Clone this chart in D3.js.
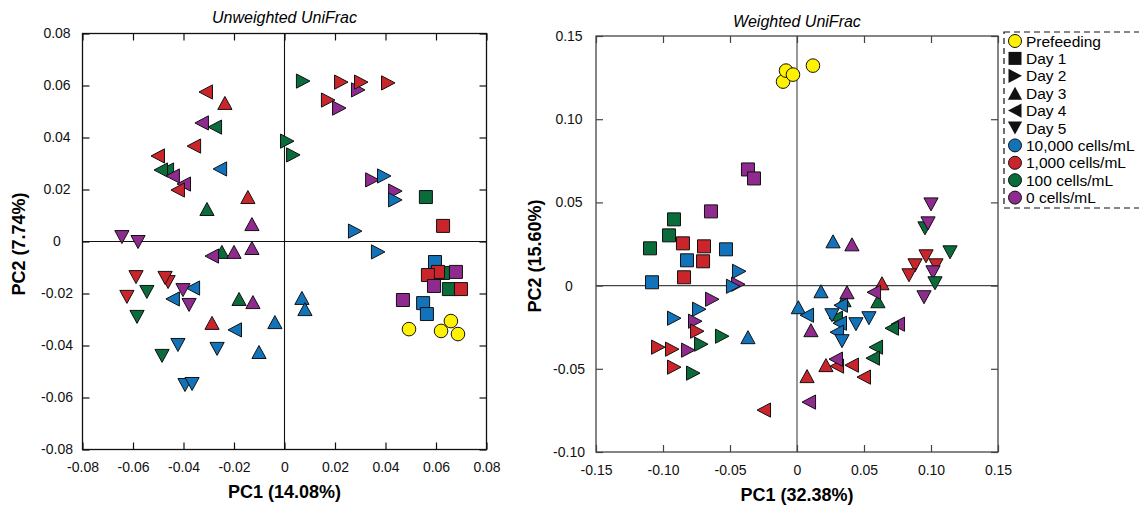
<!DOCTYPE html>
<html>
<head>
<meta charset="utf-8">
<script src="https://cdn.jsdelivr.net/npm/d3@7"></script>
<style>
  body { margin: 0; background: #fff; }
  text { font-family: "Liberation Sans", Arial, sans-serif; }
</style>
</head>
<body>
<script>
// rows: [PC1, PC2, day, dose]  day 0 = prefeeding, 1..5 = Day 1..5
// dose: 0 = 10,000 cells/mL, 1 = 1,000, 2 = 100, 3 = 0 cells/mL, -1 = prefeeding
const unweighted = [
  // Day 1
  [0.0560, 0.0171, 1, 2], [0.0628, 0.0060, 1, 1], [0.0596, -0.0079, 1, 0], [0.0628, -0.0121, 1, 2],
  [0.0608, -0.0117, 1, 1], [0.0568, -0.0129, 1, 1], [0.0679, -0.0117, 1, 3], [0.0592, -0.0171, 1, 3],
  [0.0651, -0.0183, 1, 2], [0.0699, -0.0183, 1, 1], [0.0469, -0.0225, 1, 3], [0.0549, -0.0237, 1, 0],
  [0.0564, -0.0279, 1, 0],
  // Day 2
  [0.0073, 0.0617, 2, 2], [0.0224, 0.0613, 2, 1], [0.0291, 0.0583, 2, 3], [0.0303, 0.0613, 2, 1],
  [0.0410, 0.0610, 2, 1], [0.0172, 0.0544, 2, 1], [0.0216, 0.0513, 2, 3], [0.0010, 0.0386, 2, 2],
  [0.0034, 0.0333, 2, 2], [0.0347, 0.0237, 2, 3], [0.0394, 0.0252, 2, 0], [0.0438, 0.0194, 2, 3],
  [0.0438, 0.0160, 2, 0], [0.0279, 0.0040, 2, 0], [0.0370, -0.0040, 2, 0],
  // Day 3
  [-0.0236, 0.0533, 3, 1], [-0.0145, 0.0171, 3, 1], [-0.0307, 0.0125, 3, 2], [-0.0129, 0.0067, 3, 3],
  [-0.0248, -0.0040, 3, 2], [-0.0200, -0.0040, 3, 3], [-0.0129, -0.0025, 3, 3], [-0.0180, -0.0221, 3, 2],
  [-0.0125, -0.0233, 3, 3], [-0.0287, -0.0313, 3, 1], [-0.0038, -0.0310, 3, 0], [-0.0101, -0.0425, 3, 0],
  [0.0069, -0.0217, 3, 0], [0.0081, -0.0260, 3, 0],
  // Day 4
  [-0.0311, 0.0575, 4, 1], [-0.0327, 0.0456, 4, 3], [-0.0275, 0.0440, 4, 2], [-0.0358, 0.0367, 4, 1],
  [-0.0501, 0.0329, 4, 1], [-0.0465, 0.0275, 4, 2], [-0.0489, 0.0275, 4, 2], [-0.0442, 0.0252, 4, 3],
  [-0.0398, 0.0221, 4, 3], [-0.0422, 0.0198, 4, 1], [-0.0255, 0.0279, 4, 0], [-0.0287, -0.0056, 4, 3],
  [-0.0362, -0.0179, 4, 0], [-0.0442, -0.0221, 4, 0], [-0.0196, -0.0340, 4, 0],
  // Day 5
  [-0.0644, 0.0017, 5, 3], [-0.0580, -0.0002, 5, 3], [-0.0588, -0.0137, 5, 1], [-0.0461, -0.0156, 5, 1],
  [-0.0473, -0.0140, 5, 1], [-0.0624, -0.0213, 5, 1], [-0.0545, -0.0194, 5, 2], [-0.0402, -0.0187, 5, 3],
  [-0.0378, -0.0244, 5, 3], [-0.0584, -0.0290, 5, 2], [-0.0422, -0.0398, 5, 0], [-0.0485, -0.0440, 5, 2],
  [-0.0267, -0.0413, 5, 0], [-0.0394, -0.0552, 5, 0], [-0.0366, -0.0548, 5, 0],
  // Prefeeding
  [0.0493, -0.0337, 0, -1], [0.0659, -0.0306, 0, -1], [0.0620, -0.0344, 0, -1], [0.0687, -0.0356, 0, -1]
];

const weighted = [
  // Prefeeding
  [-0.0104, 0.1226, 0, -1], [-0.0082, 0.1292, 0, -1], [-0.0030, 0.1268, 0, -1], [0.0119, 0.1322, 0, -1],
  // Day 1
  [-0.0366, 0.0698, 1, 3], [-0.0321, 0.0644, 1, 3], [-0.0642, 0.0446, 1, 3], [-0.0918, 0.0398, 1, 2],
  [-0.0955, 0.0302, 1, 2], [-0.1097, 0.0224, 1, 2], [-0.0851, 0.0254, 1, 1], [-0.0694, 0.0236, 1, 1],
  [-0.0530, 0.0218, 1, 0], [-0.0821, 0.0152, 1, 0], [-0.0701, 0.0146, 1, 1], [-0.1082, 0.0020, 1, 0],
  [-0.0843, 0.0050, 1, 1],
  // Day 2
  [-0.0433, 0.0086, 2, 0], [-0.0440, 0.0008, 2, 3], [-0.0478, -0.0004, 2, 0], [-0.0634, -0.0082, 2, 3],
  [-0.0731, -0.0142, 2, 0], [-0.0918, -0.0196, 2, 0], [-0.0761, -0.0214, 2, 3], [-0.0746, -0.0274, 2, 1],
  [-0.0560, -0.0304, 2, 2], [-0.0716, -0.0352, 2, 2], [-0.1037, -0.0370, 2, 1], [-0.0933, -0.0382, 2, 1],
  [-0.0813, -0.0388, 2, 3], [-0.0918, -0.0490, 2, 1], [-0.0776, -0.0526, 2, 2],
  // Day 3
  [-0.0366, -0.0310, 3, 0], [0.0010, -0.0130, 3, 0], [0.0269, 0.0266, 3, 0], [0.0410, 0.0248, 3, 3],
  [0.0634, 0.0014, 3, 1], [0.0604, -0.0094, 3, 2], [0.0179, -0.0034, 3, 0], [0.0351, -0.0088, 3, 2],
  [0.0373, -0.0040, 3, 3], [0.0104, -0.0268, 3, 3], [0.0216, -0.0478, 3, 1], [0.0075, -0.0544, 3, 1],
  // Day 4
  [0.0575, -0.0040, 4, 3], [0.0291, -0.0196, 4, 2], [0.0328, -0.0118, 4, 0], [0.0075, -0.0178, 4, 0],
  [0.0321, -0.0226, 4, 0], [0.0754, -0.0232, 4, 3], [0.0709, -0.0256, 4, 2], [0.0299, -0.0280, 4, 0],
  [0.0590, -0.0370, 4, 2], [0.0567, -0.0436, 4, 2], [0.0299, -0.0484, 4, 1], [0.0291, -0.0442, 4, 3],
  [0.0410, -0.0478, 4, 1], [0.0500, -0.0550, 4, 1], [0.0090, -0.0700, 4, 3], [-0.0246, -0.0748, 4, 1],
  // Day 5
  [0.1000, 0.0488, 5, 3], [0.0955, 0.0344, 5, 2], [0.0978, 0.0374, 5, 3], [0.1142, 0.0200, 5, 2],
  [0.0963, 0.0176, 5, 1], [0.0881, 0.0122, 5, 1], [0.1037, 0.0122, 5, 1], [0.0836, 0.0062, 5, 1],
  [0.1015, 0.0080, 5, 3], [0.1030, 0.0014, 5, 2], [0.0948, -0.0070, 5, 3], [0.0261, -0.0178, 5, 0],
  [0.0440, -0.0232, 5, 0], [0.0537, -0.0196, 5, 0], [0.0336, -0.0334, 5, 0]
];

const dayLabels = ["Prefeeding", "Day 1", "Day 2", "Day 3", "Day 4", "Day 5"];
const doseLabels = ["10,000 cells/mL", "1,000 cells/mL", "100 cells/mL", "0 cells/mL"];
const uwTicks = [-0.08, -0.06, -0.04, -0.02, 0, 0.02, 0.04, 0.06, 0.08];
const wXTicks = [-0.15, -0.10, -0.05, 0, 0.05, 0.10, 0.15];
const wYTicks = [-0.10, -0.05, 0, 0.05, 0.10, 0.15];

const doseColor = ["#1273bb", "#cb252c", "#0a6b3b", "#8f2a8e"];
const preColor = "#fff200";

const W = 1139, H = 508;
const svg = d3.select("body").append("svg").attr("width", W).attr("height", H);

function shapePath(day, s) {
  const h = s / 2, w = s / 2 + 0.6;
  switch (day) {
    case 1: return `M${-h},${-h}H${h}V${h}H${-h}Z`;
    case 2: return `M${-h},${-w}L${h + 0.5},0L${-h},${w}Z`;
    case 3: return `M0,${-h}L${w},${h}L${-w},${h}Z`;
    case 4: return `M${h},${-w}L${-h - 0.5},0L${h},${w}Z`;
    case 5: return `M${-w},${-h}L${w},${-h}L0,${h}Z`;
  }
  return null;
}

const fmt = d => d === 0 ? "0" : d.toFixed(2);

function drawPanel(o) {
  const x = d3.scaleLinear().domain(o.xd).range([o.x0, o.x1]);
  const y = d3.scaleLinear().domain(o.yd).range([o.y1, o.y0]);
  const g = svg.append("g");

  // inward ticks on all four sides
  const tk = 7;
  g.append("g").attr("transform", `translate(0,${o.y1})`)
    .call(d3.axisBottom(x).tickValues(o.xt).tickSize(-tk).tickSizeOuter(0).tickPadding(tk + 6).tickFormat(fmt));
  g.append("g").attr("transform", `translate(0,${o.y0})`)
    .call(d3.axisTop(x).tickValues(o.xt).tickSize(-tk).tickSizeOuter(0).tickFormat(""));
  const yl = g.append("g").attr("transform", `translate(${o.x0},0)`)
    .call(d3.axisLeft(y).tickValues(o.yt).tickSize(-tk).tickSizeOuter(0).tickFormat(fmt));
  yl.selectAll("text").attr("text-anchor", "middle").attr("x", o.ylabX - o.x0);
  g.append("g").attr("transform", `translate(${o.x1},0)`)
    .call(d3.axisRight(y).tickValues(o.yt).tickSize(-tk).tickSizeOuter(0).tickFormat(""));

  g.selectAll(".domain").remove();
  g.selectAll(".tick line").attr("stroke", o.line).attr("stroke-width", 1.2);
  g.selectAll(".tick text").attr("font-size", 14).attr("fill", "#111")
    .attr("font-family", "Liberation Sans, Arial, sans-serif");

  g.append("rect").attr("x", o.x0).attr("y", o.y0)
    .attr("width", o.x1 - o.x0).attr("height", o.y1 - o.y0)
    .attr("fill", "none").attr("stroke", o.line).attr("stroke-width", 1.3);
  g.append("line").attr("x1", x(0)).attr("x2", x(0)).attr("y1", o.y0).attr("y2", o.y1)
    .attr("stroke", o.line).attr("stroke-width", 1.1);
  g.append("line").attr("x1", o.x0).attr("x2", o.x1).attr("y1", y(0)).attr("y2", y(0))
    .attr("stroke", o.line).attr("stroke-width", 1.1);

  g.append("text").attr("x", (o.x0 + o.x1) / 2).attr("y", o.titleY)
    .attr("text-anchor", "middle").attr("font-size", 16).attr("font-style", "italic")
    .text(o.title);
  g.append("text").attr("x", (o.x0 + o.x1) / 2).attr("y", o.xlabY)
    .attr("text-anchor", "middle").attr("font-size", 18).attr("font-weight", "bold")
    .text(o.xlab);
  g.append("text").attr("transform", `translate(${o.ylabPos[0]},${o.ylabPos[1]}) rotate(-90)`)
    .attr("text-anchor", "middle").attr("font-size", 18).attr("font-weight", "bold")
    .text(o.ylab);

  const pts = g.append("g");
  o.data.forEach(d => {
    const fill = d[3] < 0 ? preColor : doseColor[d[3]];
    if (d[2] === 0) {
      pts.append("circle").attr("cx", x(d[0])).attr("cy", y(d[1])).attr("r", 6.8)
        .attr("fill", fill).attr("stroke", "#111").attr("stroke-width", 1);
    } else {
      pts.append("path").attr("d", shapePath(d[2], 13))
        .attr("transform", `translate(${x(d[0])},${y(d[1])})`)
        .attr("fill", fill).attr("stroke", "#111").attr("stroke-width", 1)
        .attr("stroke-linejoin", "miter");
    }
  });
}

drawPanel({
  data: unweighted, xd: [-0.08, 0.08], yd: [-0.08, 0.08], xt: uwTicks, yt: uwTicks,
  x0: 82.5, x1: 486.5, y0: 33.5, y1: 449.5, line: "#111",
  title: "Unweighted UniFrac", titleY: 23, xlab: "PC1 (14.08%)", xlabY: 498,
  ylab: "PC2 (7.74%)", ylabPos: [25, 244], ylabX: 57
});

drawPanel({
  data: weighted, xd: [-0.15, 0.15], yd: [-0.10, 0.15], xt: wXTicks, yt: wYTicks,
  x0: 596, x1: 998, y0: 36, y1: 452, line: "#444",
  title: "Weighted UniFrac", titleY: 27, xlab: "PC1 (32.38%)", xlabY: 501,
  ylab: "PC2 (15.60%)", ylabPos: [541, 256], ylabX: 569
});

// legend
const lg = svg.append("g");
lg.append("rect").attr("x", 1004).attr("y", 32).attr("width", 145).attr("height", 176)
  .attr("fill", "none").attr("stroke", "#111").attr("stroke-width", 1.2)
  .attr("stroke-dasharray", "6,4");
const legendRows = dayLabels.map((t, i) => ({ t, day: i, fill: i === 0 ? preColor : "#111" }))
  .concat(doseLabels.map((t, i) => ({ t, day: 0, fill: doseColor[i] })));
legendRows.forEach((r, i) => {
  const cy = 41 + i * 17.4;
  if (r.day === 0) {
    lg.append("circle").attr("cx", 1015).attr("cy", cy).attr("r", 6.5)
      .attr("fill", r.fill).attr("stroke", "#111").attr("stroke-width", 1);
  } else {
    lg.append("path").attr("d", shapePath(r.day, 13)).attr("transform", `translate(1015,${cy})`)
      .attr("fill", "#111");
  }
  lg.append("text").attr("x", 1026).attr("y", cy + 5.5).attr("font-size", 15.5).text(r.t);
});
</script>
</body>
</html>
